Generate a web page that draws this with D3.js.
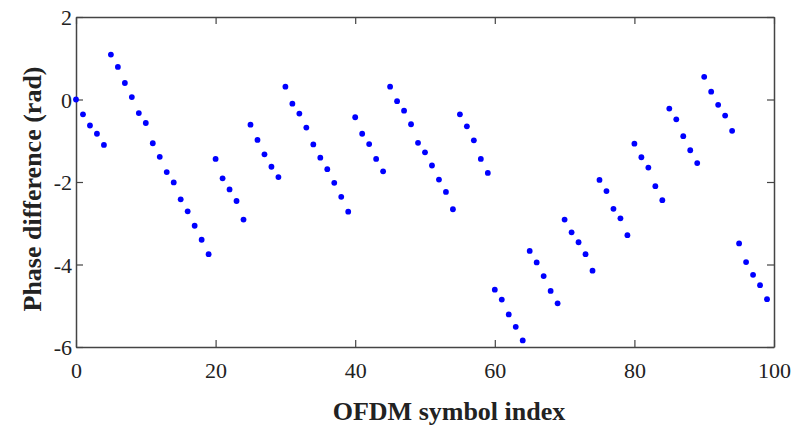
<!DOCTYPE html>
<html>
<head>
<meta charset="utf-8">
<script src="https://cdn.jsdelivr.net/npm/d3@7"></script>
<style>
  body { margin: 0; background: #fff; }
  svg { display: block; }
</style>
</head>
<body>
<div id="chart"></div>
<script>
// phase difference per OFDM symbol (index 0..99)
var phase = [
   0.00, -0.36, -0.63, -0.83, -1.10,
   1.09,  0.79,  0.40,  0.06, -0.33,
  -0.57, -1.06, -1.39, -1.76, -2.01,
  -2.42, -2.71, -3.06, -3.40, -3.75,
  -1.44, -1.91, -2.18, -2.46, -2.91,
  -0.61, -0.98, -1.33, -1.63, -1.88,
   0.31, -0.10, -0.34, -0.68, -1.09,
  -1.41, -1.69, -2.02, -2.36, -2.72,
  -0.43, -0.83, -1.08, -1.44, -1.74,
   0.31, -0.04, -0.27, -0.60, -1.05,
  -1.28, -1.60, -1.94, -2.24, -2.66,
  -0.36, -0.65, -0.99, -1.44, -1.78,
  -4.61, -4.85, -5.21, -5.51, -5.84,
  -3.67, -3.95, -4.28, -4.64, -4.94,
  -2.91, -3.22, -3.46, -3.75, -4.15,
  -1.95, -2.22, -2.65, -2.88, -3.29,
  -1.07, -1.40, -1.65, -2.10, -2.44,
  -0.22, -0.48, -0.89, -1.23, -1.54,
   0.55,  0.19, -0.13, -0.39, -0.76,
  -3.49, -3.94, -4.25, -4.50, -4.84
];
var xTicks = [0, 20, 40, 60, 80, 100];
var yTicks = [-6, -4, -2, 0, 2];

const width = 795, height = 427;
const margin = {top: 17, right: 21, bottom: 80, left: 76};
var innerWidth = width - margin.left - margin.right;
var innerHeight = height - margin.top - margin.bottom;
var serif = "'Liberation Serif', 'Times New Roman', serif";

var svg = d3.select("#chart").append("svg")
    .attr("width", width)
    .attr("height", height)
    .attr("font-family", serif);

var g = svg.append("g")
    .attr("transform", "translate(" + margin.left + "," + margin.top + ")");

var xScale = d3.scaleLinear().domain([0, 100]).range([0, innerWidth]);
var yScale = d3.scaleLinear().domain([-6, 2]).range([innerHeight, 0]);

var axisColor = "#444";
var tickLen = 7;
var plain = d => String(d);   // hyphen minus like the original, not d3's unicode minus

// bottom & left with labels, ticks pointing inward (matlab style)
var xAxis = g.append("g")
    .attr("transform", "translate(0," + innerHeight + ")")
    .call(d3.axisBottom(xScale).tickValues(xTicks).tickFormat(plain)
        .tickSizeInner(-tickLen).tickSizeOuter(0).tickPadding(15));
var yAxis = g.append("g")
    .call(d3.axisLeft(yScale).tickValues(yTicks).tickFormat(plain)
        .tickSizeInner(-tickLen).tickSizeOuter(0).tickPadding(4));
// top & right, ticks only
var xTop = g.append("g")
    .call(d3.axisTop(xScale).tickValues(xTicks).tickSizeInner(-tickLen).tickSizeOuter(0));
var yRight = g.append("g")
    .attr("transform", "translate(" + innerWidth + ",0)")
    .call(d3.axisRight(yScale).tickValues(yTicks).tickSizeInner(-tickLen).tickSizeOuter(0));
xTop.selectAll("text").remove();
yRight.selectAll("text").remove();

[xAxis, yAxis, xTop, yRight].forEach(function(a) {
    a.attr("font-family", serif).attr("font-size", 22);
    a.selectAll("path").attr("stroke", axisColor).attr("stroke-width", 1.5);
    a.selectAll("line").attr("stroke", axisColor).attr("stroke-width", 1.2);
    a.selectAll("text").attr("fill", "#222");
});
yAxis.selectAll("text").attr("dy", "0.36em");

g.append("g")
    .selectAll("circle")
    .data(phase)
    .enter()
    .append("circle")
    .attr("cx", (d, i) => xScale(i))
    .attr("cy", d => yScale(d))
    .attr("r", 2.9)
    .attr("fill", "#0000ff");

svg.append("text")
    .attr("x", 449)
    .attr("y", 420)
    .attr("text-anchor", "middle")
    .attr("font-size", 26)
    .attr("font-weight", "bold")
    .attr("fill", "#222")
    .text("OFDM symbol index");

svg.append("text")
    .attr("transform", "translate(41,189) rotate(-90)")
    .attr("text-anchor", "middle")
    .attr("font-size", 26)
    .attr("font-weight", "bold")
    .attr("fill", "#222")
    .text("Phase difference (rad)");
</script>
</body>
</html>
